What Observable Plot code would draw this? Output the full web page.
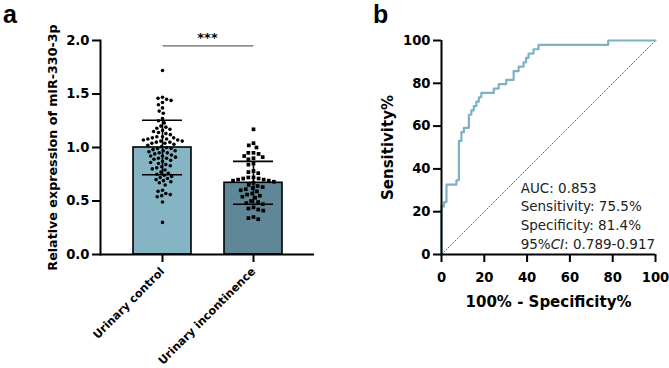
<!DOCTYPE html>
<html><head><meta charset="utf-8">
<script src="https://cdn.jsdelivr.net/npm/d3@7"></script>
<script src="https://cdn.jsdelivr.net/npm/@observablehq/plot@0.6"></script>
<style>
body{margin:0;background:#fff;}
#fig{position:relative;width:669px;height:368px;font-family:"DejaVu Sans",sans-serif;overflow:hidden;}
#fig svg{position:absolute;top:0;overflow:visible;}
.lab{position:absolute;font-family:"Liberation Sans",Arial,sans-serif;font-weight:bold;font-size:25px;line-height:normal;color:#000;}
</style></head><body>
<div id="fig"></div>
<script>
// ---------- data: panel a ----------
const groups = ["Urinary control", "Urinary incontinence"];
const groupColors = ["#85b4c5", "#5f8797"];
const means = [1.00, 0.67];
const sds = [0.255, 0.20];
const controlValues = [
  1.72,
  1.47, 1.46, 1.45, 1.44, 1.42, 1.40, 1.37, 1.34, 1.32,
  1.27, 1.25, 1.23,
  1.20, 1.19, 1.18, 1.17, 1.16, 1.15, 1.14, 1.13, 1.12,
  1.10, 1.10, 1.09, 1.09, 1.08, 1.08, 1.07, 1.07, 1.06, 1.06, 1.05, 1.05, 1.04, 1.04, 1.03,
  1.02, 1.01, 1.00, 0.99, 0.99, 0.98, 0.97, 0.97, 0.96, 0.95, 0.95, 0.94,
  0.93, 0.92, 0.92, 0.91, 0.90, 0.90, 0.89, 0.88, 0.87,
  0.86, 0.85, 0.84, 0.83, 0.82, 0.81, 0.80, 0.79,
  0.77, 0.76, 0.75, 0.74, 0.73, 0.72, 0.71, 0.70, 0.69, 0.68, 0.67, 0.65,
  0.60, 0.59, 0.57, 0.56, 0.55, 0.54,
  0.49, 0.30
];
const incontinenceValues = [
  1.17,
  1.04, 1.02, 1.00,
  0.95, 0.95, 0.94,
  0.92, 0.91, 0.90, 0.89,
  0.85, 0.84,
  0.78, 0.77, 0.76,
  0.72, 0.72, 0.71, 0.71, 0.70, 0.70, 0.69, 0.69, 0.68, 0.67,
  0.65, 0.64, 0.63, 0.62, 0.61, 0.60, 0.59,
  0.57, 0.56, 0.55, 0.54, 0.53,
  0.50, 0.49, 0.48, 0.47,
  0.44, 0.43, 0.42, 0.41,
  0.35, 0.34, 0.33
];
const yTicksA = [0, 0.5, 1.0, 1.5, 2.0];
const yTitleA = "Relative expression of miR-330-3p";
const sigLabel = "***";
const sigLineY = 1.95;
const sigLabelY = 2.07;

// ---------- data: panel b ----------
const rocFpr = [0, 0, 1.16, 2.33, 6.98, 8.14, 9.30, 10.47, 12.79, 13.95, 15.12, 16.28, 17.44, 18.60, 24.42, 26.74, 30.23, 33.72, 36.05, 38.37, 39.53, 40.70, 43.02, 45.35, 77.91, 100];
const rocTpr = [0, 22.45, 24.49, 32.65, 34.69, 53.06, 57.14, 59.18, 65.31, 67.35, 69.39, 71.43, 73.47, 75.51, 77.55, 79.59, 81.63, 85.71, 87.76, 89.80, 91.84, 93.88, 95.92, 97.96, 100, 100];
const diagX = [0, 100];
const diagY = [0, 100];
const ticksB = [0, 20, 40, 60, 80, 100];
const rocStats = ["AUC: 0.853", "Sensitivity: 75.5%", "Specificity: 81.4%", "95%CI: 0.789-0.917"];
const xTitleB = "100% - Specificity%";
const yTitleB = "Sensitivity%";
const panelLabels = ["a", "b"];

// ---------- build ----------
const font = '"DejaVu Sans", sans-serif';
const H = 368;
const WA = 335;
const mA = {marginLeft: 100, marginRight: 21, marginTop: 40, marginBottom: 114};
const band = {domain: groups, paddingInner: 0.363, paddingOuter: 0.357};

const barRows = groups.map((g, i) => ({group: g, mean: means[i], sd: sds[i]}));
const capRows = barRows.flatMap(d => [{group: d.group, y: d.mean + d.sd}, {group: d.group, y: d.mean - d.sd}]);
const ctrlRows = controlValues.map(v => ({group: groups[0], value: v}));
const incRows = incontinenceValues.map(v => ({group: groups[1], value: v}));
const sig = [{from: groups[0], to: groups[1], y: sigLineY}];

const plotA = Plot.plot({
  width: WA, height: H, ...mA,
  style: {fontFamily: font, background: "transparent", overflow: "visible", color: "black"},
  x: {type: "band", ...band},
  y: {domain: [0, 2]},
  color: {domain: groups, range: groupColors},
  marks: [
    Plot.barY(barRows, {x: "group", y: "mean", fill: "group", stroke: "black", strokeWidth: 1.6}),
    Plot.ruleX(barRows, {x: "group", y1: d => d.mean - d.sd, y2: d => d.mean + d.sd, strokeWidth: 1.6}),
    Plot.tickY(capRows, {x: "group", y: "y", insetLeft: 9, insetRight: 9, strokeWidth: 1.6}),
    Plot.ruleY([0], {strokeWidth: 2}),
    Plot.frame({anchor: "left", strokeWidth: 2}),
    Plot.axisY({ticks: yTicksA, tickFormat: d3.format(".1f"), tickSize: 8, tickPadding: 3, strokeWidth: 2, fontSize: 13.2, fontWeight: "bold", label: null}),
    Plot.axisX({tickSize: 8, tickPadding: 7, tickRotate: -45, textAnchor: "end", lineAnchor: "middle", strokeWidth: 2, fontSize: 11.2, fontWeight: "bold", label: null}),
    Plot.link(sig, {x1: "from", x2: "to", y1: "y", y2: "y", stroke: "#666", strokeWidth: 1.3}),
    Plot.text([sigLabel], {text: d => d, frameAnchor: "top", y: sigLabelY, fontSize: 13, fontWeight: "bold", letterSpacing: "1px"}),
    Plot.text([yTitleA], {text: d => d, frameAnchor: "left", textAnchor: "middle", lineAnchor: "middle", rotate: -90, dx: -48, fontSize: 12.7, fontWeight: "bold"})
  ]
});

const dotsA = Plot.plot({
  width: WA, height: H, ...mA,
  style: {fontFamily: font, background: "transparent", overflow: "visible"},
  fx: {...band, axis: null, label: null},
  y: {domain: [0, 2], axis: null},
  marks: [
    Plot.dot(ctrlRows, Plot.dodgeX("middle", {fx: "group", y: "value", r: 1.8, fill: "black", stroke: "none", padding: 2.8})),
    Plot.dot(incRows, Plot.dodgeX("middle", {fx: "group", y: "value", r: 2.1, symbol: "square", fill: "black", stroke: "none", padding: 2.4}))
  ]
});

const WB = 334;
const rocRows = rocFpr.map((x, i) => ({fpr: x, tpr: rocTpr[i]}));
const diagRows = diagX.map((x, i) => ({x, y: diagY[i]}));

const plotB = Plot.plot({
  width: WB, height: H,
  marginLeft: 106, marginRight: 14, marginTop: 40, marginBottom: 114,
  style: {fontFamily: font, background: "transparent", overflow: "visible", color: "black"},
  x: {domain: [0, 100]},
  y: {domain: [0, 100]},
  marks: [
    Plot.line(diagRows, {x: "x", y: "y", stroke: "#444", strokeWidth: 0.8, strokeDasharray: "1.2,2"}),
    Plot.line(rocRows, {x: "fpr", y: "tpr", curve: "step-after", stroke: "#7db2c4", strokeWidth: 2.2}),
    Plot.ruleY([0], {strokeWidth: 2}),
    Plot.ruleX([0], {strokeWidth: 2}),
    Plot.axisY({ticks: ticksB, tickSize: 8, tickPadding: 3, strokeWidth: 2, fontSize: 13.2, fontWeight: "bold", label: null}),
    Plot.axisX({ticks: ticksB, tickSize: 8, tickPadding: 10, strokeWidth: 2, fontSize: 13.2, fontWeight: "bold", label: null}),
    Plot.text([rocStats.join("\n")], {text: d => d, x: 37, y: 35, textAnchor: "start", lineAnchor: "top", lineHeight: 1.38, fontSize: 13.5, fill: "#222"}),
    Plot.text([xTitleB], {text: d => d, frameAnchor: "bottom", textAnchor: "middle", dy: 52, fontSize: 15, fontWeight: "bold"}),
    Plot.text([yTitleB], {text: d => d, frameAnchor: "left", textAnchor: "middle", lineAnchor: "middle", rotate: -90, dx: -53, fontSize: 15, fontWeight: "bold"})
  ]
});

// italic "CI"
plotB.querySelectorAll("tspan, text").forEach(t => {
  if (t.children.length === 0 && t.textContent.includes("CI")) {
    const [pre, post] = t.textContent.split("CI");
    t.textContent = "";
    t.appendChild(document.createTextNode(pre));
    const it = document.createElementNS("http://www.w3.org/2000/svg", "tspan");
    it.setAttribute("font-style", "italic");
    it.textContent = "CI";
    t.appendChild(it);
    t.appendChild(document.createTextNode(post));
  }
});

const fig = document.getElementById("fig");
plotA.style.left = "0px";
dotsA.style.left = "0px";
plotB.style.left = WA + "px";
fig.appendChild(plotA);
fig.appendChild(dotsA);
fig.appendChild(plotB);
const la = document.createElement("div"); la.className = "lab"; la.textContent = panelLabels[0]; la.style.left = "3px"; la.style.top = "0px";
const lb = document.createElement("div"); lb.className = "lab"; lb.textContent = panelLabels[1]; lb.style.left = "373px"; lb.style.top = "0px";
fig.appendChild(la); fig.appendChild(lb);
</script>
</body></html>
